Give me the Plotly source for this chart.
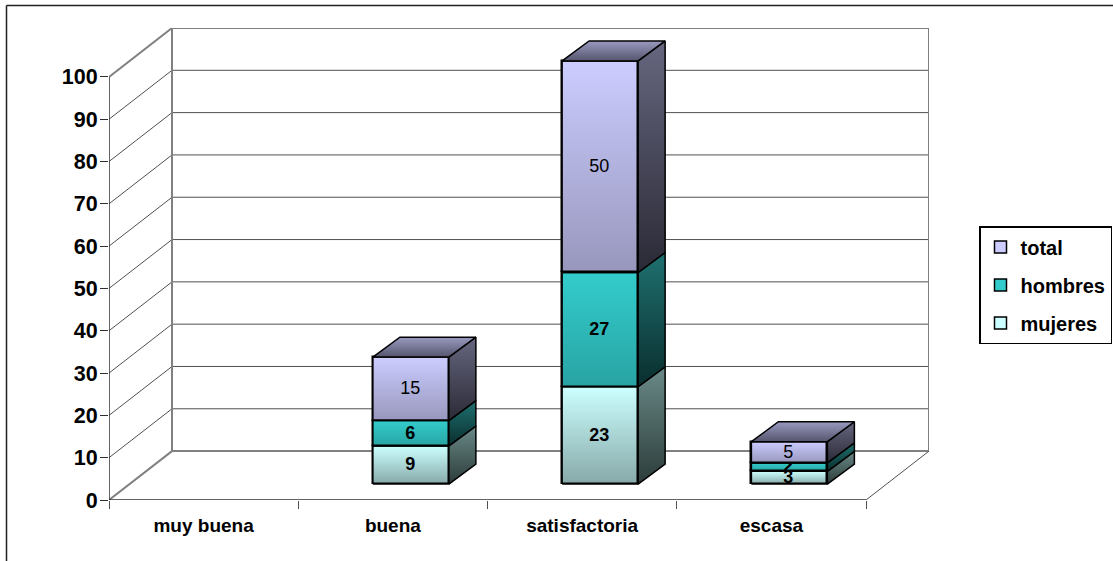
import plotly.graph_objects as go

categories = ["muy buena", "buena", "satisfactoria", "escasa"]
mujeres = [0, 9, 23, 3]
hombres = [0, 6, 27, 2]
total = [0, 15, 50, 5]
y_ticks = list(range(0, 101, 10))

# series: name, values, front colour, side gradient (top, bottom), label weight, shade, legend rank
series = [
    ("mujeres", mujeres, "#CCFFFF", "#6A8A88", "#2C3C3A", "bold", 0.34, 3),
    ("hombres", hombres, "#33CCCC", "#1F7070", "#0A2E2E", "bold", 0.20, 2),
    ("total", total, "#CCCCFF", "#66667F", "#2A2A36", "normal", 0.26, 1),
]

W, H = 1113, 561
X0, Y0 = 109, 500          # pixel position of the axis origin
PX_CAT, PX_UNIT = 189.25, 4.24
WALL_DX, WALL_DY = 63 / PX_CAT, 49 / PX_UNIT
BAR_DX, BAR_DY = 18 / PX_CAT, 16 / PX_UNIT
DEPTH_DX, DEPTH_DY = 27 / PX_CAT, 20 / PX_UNIT
BAR_W = 76 / PX_CAT
n = len(categories)
x_max = n + WALL_DX
y_max = 100 + WALL_DY
FONT = "Liberation Sans, Arial, sans-serif"

fig = go.Figure()
overlays = []
stack = [0] * n
for name, vals, col, side_top, side_bot, weight, shade, rank in series:
    xs, bases, ys, texts = [], [], [], []
    for i, v in enumerate(vals):
        if v == 0:
            continue
        xs.append(i + 0.5 + BAR_DX)
        bases.append(stack[i] + BAR_DY)
        ys.append(v)
        texts.append(str(v))
        xl, xr = xs[-1] - BAR_W / 2, xs[-1] + BAR_W / 2
        yb, yt = bases[-1], bases[-1] + v
        overlays.append(dict(x=[xl, xr, xr, xl, xl], y=[yb, yb, yt, yt, yb],
                             fillgradient=dict(type="vertical", colorscale=[[0, f"rgba(0,0,0,{shade})"], [1, "rgba(0,0,0,0)"]])))
        overlays.append(dict(x=[xr, xr + DEPTH_DX, xr + DEPTH_DX, xr, xr],
                             y=[yb, yb + DEPTH_DY, yt + DEPTH_DY, yt, yb],
                             fillgradient=dict(type="vertical", colorscale=[[0, side_bot], [1, side_top]])))
        if name == "total":
            overlays.append(dict(x=[xl, xr, xr + DEPTH_DX, xl + DEPTH_DX, xl],
                                 y=[yt, yt, yt + DEPTH_DY, yt + DEPTH_DY, yt],
                                 fillgradient=dict(type="vertical", colorscale=[[0, "#55556E"], [1, "#9A9AC0"]])))
        stack[i] += v
    fig.add_trace(go.Bar(
        x=xs, y=ys, base=bases, width=BAR_W, name=name, legendgroup=name, legendrank=rank,
        marker=dict(color=col, line=dict(color="black", width=1.5)),
        text=texts, textposition="inside", insidetextanchor="middle", textangle=0,
        constraintext="none", cliponaxis=False,
        textfont=dict(family=FONT, size=18, color="black", weight=weight),
        hoverinfo="skip",
    ))

for ov in overlays:
    fig.add_trace(go.Scatter(
        x=ov["x"], y=ov["y"], mode="lines", fill="toself", fillgradient=ov["fillgradient"],
        line=dict(color="black", width=1.5), showlegend=False, hoverinfo="skip",
    ))

shapes = []
def seg(x0, y0, x1, y1, color, width):
    shapes.append(dict(type="line", xref="x", yref="y", x0=x0, y0=y0, x1=x1, y1=y1,
                       line=dict(color=color, width=width), layer="below"))

GREY, GRID = "#808080", "#505050"
for t in y_ticks:
    edge = t in (y_ticks[0], y_ticks[-1])
    c, w = (GREY, 2) if edge else (GRID, 1)
    seg(0, t, WALL_DX, t + WALL_DY, c, w)
    seg(WALL_DX, t + WALL_DY, n + WALL_DX, t + WALL_DY, c, w)
seg(WALL_DX, WALL_DY, WALL_DX, 100 + WALL_DY, GREY, 2)
seg(n + WALL_DX, WALL_DY, n + WALL_DX, 100 + WALL_DY, GREY, 2)
seg(n, 0, n + WALL_DX, WALL_DY, GRID, 1)
seg(0, 0, 0, 100, "#303030", 1.5)
seg(0, 0, n, 0, "#303030", 1.5)
# chart-area border (left and top edges; the others fall on the canvas edge)
shapes.append(dict(type="line", xref="paper", yref="paper", x0=6.5 / W, x1=6.5 / W, y0=0, y1=1 - 5.5 / H,
                   line=dict(color="#202020", width=1.5)))
shapes.append(dict(type="line", xref="paper", yref="paper", x0=6.5 / W, x1=1, y0=1 - 5.5 / H, y1=1 - 5.5 / H,
                   line=dict(color="#202020", width=1.5)))

fig.update_layout(
    width=W, height=H, margin=dict(l=0, r=0, t=0, b=0, pad=0, autoexpand=False),
    paper_bgcolor="white", plot_bgcolor="white", barmode="overlay", bargap=0,
    font=dict(family=FONT, color="black"),
    shapes=shapes,
    xaxis=dict(domain=[X0 / W, 929 / W], range=[0, x_max], tickmode="array",
               tickvals=[i + 0.5 for i in range(n)], ticktext=categories,
               ticks="", showgrid=False, zeroline=False, showline=False, ticklabelstandoff=12,
               automargin=False, tickfont=dict(family=FONT, size=19, weight="bold"),
               minor=dict(tickmode="array", tickvals=list(range(n + 1)), ticks="outside", ticklen=8,
                          tickcolor="#505050", tickwidth=1, showgrid=False)),
    yaxis=dict(domain=[(H - Y0) / H, (H - 28) / H], range=[0, y_max], tickmode="array", tickvals=y_ticks,
               ticks="outside", ticklen=8, tickcolor="#303030", tickwidth=1, showgrid=False, zeroline=False,
               showline=False, automargin=False, ticklabelstandoff=-2,
               tickfont=dict(family=FONT, size=21.5, weight="bold")),
    legend=dict(xref="paper", yref="paper", x=979 / W, y=1 - 226 / H, xanchor="left", yanchor="top",
                bgcolor="white", bordercolor="black", borderwidth=1.5,
                font=dict(family=FONT, size=20, weight="bold", color="black"),
                traceorder="grouped", tracegroupgap=9, entrywidth=85, entrywidthmode="pixels"),
)
fig.write_html("out.html", config={"displayModeBar": False},
               post_script="document.body.style.margin='0';document.documentElement.style.overflow='hidden';")
